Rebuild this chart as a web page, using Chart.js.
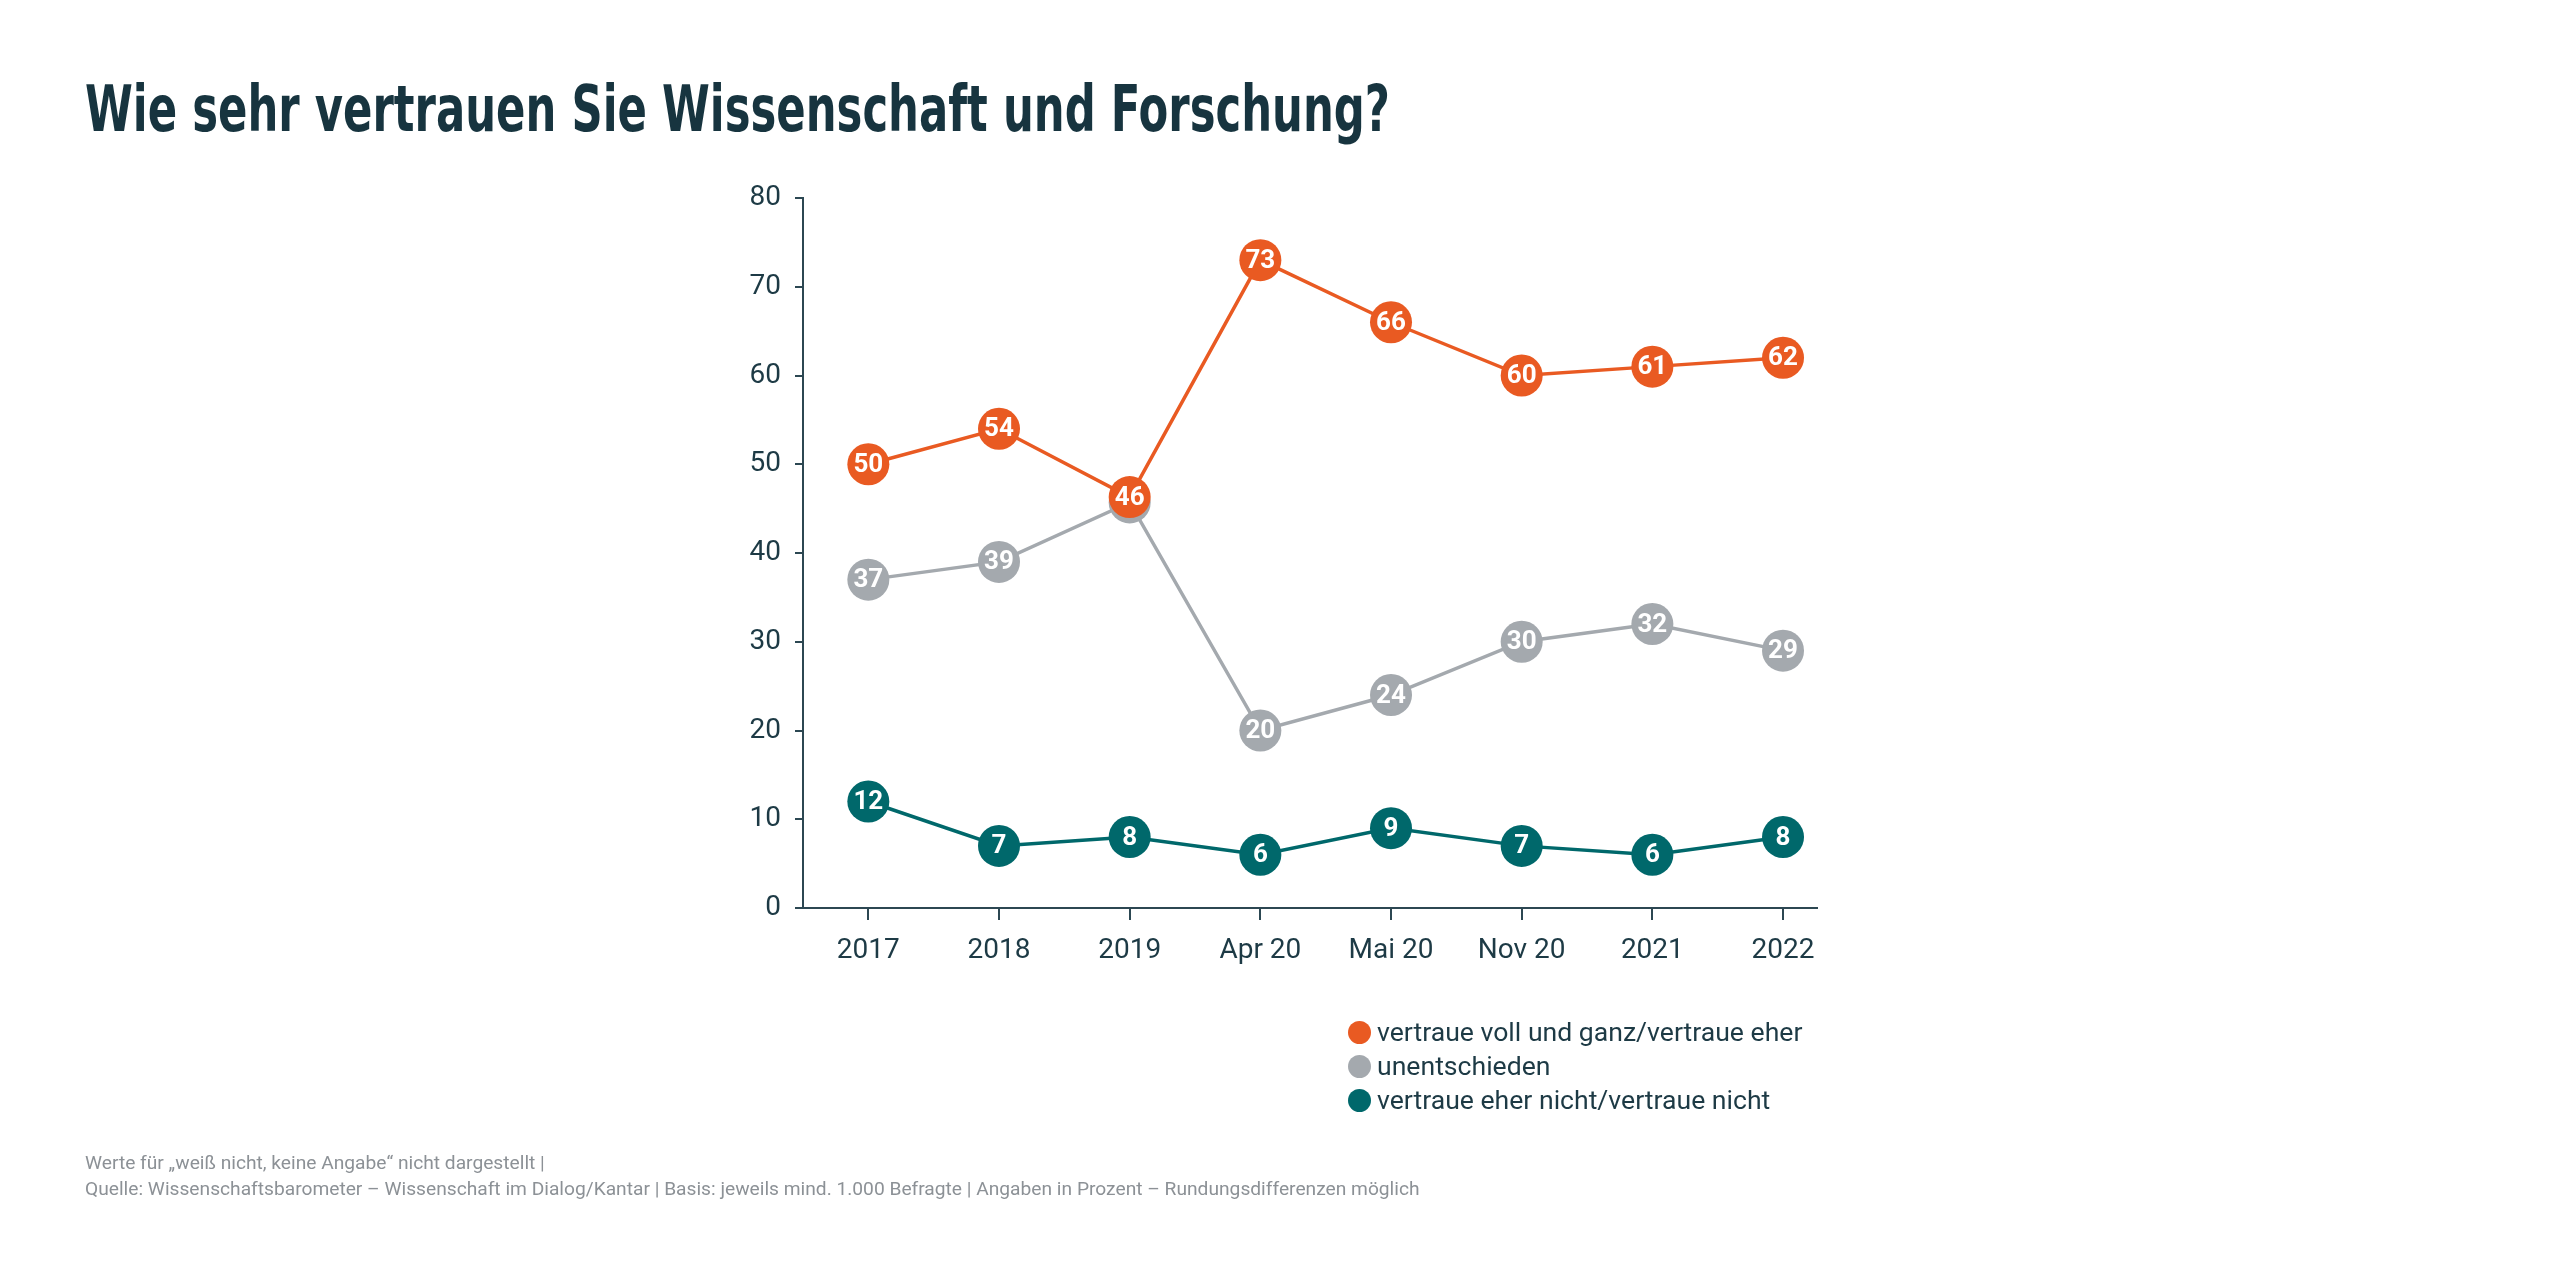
<!DOCTYPE html>
<html lang="de">
<head>
<meta charset="UTF-8">
<title>Vertrauen in Wissenschaft und Forschung</title>
<script src="https://cdn.jsdelivr.net/npm/chart.js"></script>
<style>
  body {
    margin: 0;
    width: 2560px;
    height: 1280px;
    background: #fff;
    position: relative;
    overflow: hidden;
    font-family: Roboto, sans-serif;
    color: #1d3a45;
  }
  h1 {
    position: absolute;
    left: 85px;
    top: 77px;
    margin: 0;
    font: bold 64px/64px "DejaVu Sans Condensed", sans-serif;
    color: #17343f;
    white-space: nowrap;
    transform: scaleX(0.753);
    transform-origin: left top;
  }
  #chart {
    position: absolute;
    left: 0;
    top: 0;
  }
  #legend {
    position: absolute;
    left: 1348px;
    top: 1015px;
    font-size: 26.6px;
    line-height: 34px;
  }
  #legend .dot {
    display: inline-block;
    width: 23px;
    height: 23px;
    border-radius: 50%;
    margin-right: 6px;
    vertical-align: -3px;
  }
  .note {
    position: absolute;
    left: 85px;
    top: 1150px;
    font-size: 19.2px;
    line-height: 26px;
    color: #8c9196;
    white-space: nowrap;
  }
</style>
</head>
<body>
  <h1>Wie sehr vertrauen Sie Wissenschaft und Forschung?</h1>
  <canvas id="chart" width="2560" height="1280"></canvas>
  <div id="legend"></div>
  <div class="note">
    Werte für „weiß nicht, keine Angabe“ nicht dargestellt |<br>
    Quelle: Wissenschaftsbarometer – Wissenschaft im Dialog/Kantar | Basis: jeweils mind. 1.000 Befragte | Angaben in Prozent – Rundungsdifferenzen möglich
  </div>

<script>
  const categories = ['2017', '2018', '2019', 'Apr 20', 'Mai 20', 'Nov 20', '2021', '2022'];
  const vertrauen = [50, 54, 46.3, 73, 66, 60, 61, 62];
  const unentschieden = [37, 39, 45.7, 20, 24, 30, 32, 29];
  const nichtVertrauen = [12, 7, 8, 6, 9, 7, 6, 8];
  const yTicks = [0, 10, 20, 30, 40, 50, 60, 70, 80];

  const seriesNames = ['vertraue voll und ganz/vertraue eher', 'unentschieden', 'vertraue eher nicht/vertraue nicht'];
  const seriesColors = ['#e95a22', '#a4a9ae', '#00686b'];
  const seriesValues = [vertrauen, unentschieden, nichtVertrauen];

  const axisColor = '#2c4752';
  const textColor = '#1d3a45';

  // white numbers inside the circles, drawn right after each dataset so layering stays right
  const pointLabels = {
    id: 'pointLabels',
    afterDatasetDraw(chart, args) {
      const c = chart.ctx;
      const values = seriesValues[args.index];
      c.save();
      c.font = 'bold 26px Roboto';
      c.fillStyle = '#ffffff';
      c.textAlign = 'center';
      c.textBaseline = 'middle';
      args.meta.data.forEach((pt, i) => {
        c.fillText(String(Math.round(values[i])), pt.x, pt.y + 1);
      });
      c.restore();
    }
  };

  const datasets = seriesValues.map((vals, k) => ({
    label: seriesNames[k],
    data: vals.map((v, i) => ({ x: i, y: v })),
    borderColor: seriesColors[k],
    backgroundColor: seriesColors[k],
    borderWidth: 3.5,
    pointRadius: 21,
    pointHoverRadius: 21,
    pointBorderWidth: 0,
    pointBackgroundColor: seriesColors[k],
    tension: 0,
    clip: false
  }));

  new Chart(document.getElementById('chart'), {
    type: 'line',
    data: { datasets: datasets },
    options: {
      responsive: false,
      animation: false,
      devicePixelRatio: 1,
      layout: { padding: { left: 723, right: 743, top: 198, bottom: 292 } },
      plugins: {
        legend: { display: false },
        tooltip: { enabled: false }
      },
      scales: {
        x: {
          type: 'linear',
          min: -0.5,
          max: 7.26,
          afterFit: s => { s.height = 80; },
          afterBuildTicks: s => { s.ticks = categories.map((c, i) => ({ value: i })); },
          ticks: {
            callback: v => categories[v],
            font: { family: 'Roboto', size: 28 },
            color: textColor,
            padding: 14,
            maxRotation: 0,
            autoSkip: false
          },
          grid: { drawOnChartArea: false, drawTicks: true, tickLength: 12, color: axisColor, lineWidth: 2 },
          border: { display: true, color: axisColor, width: 2 }
        },
        y: {
          min: 0,
          max: 80,
          afterFit: s => { s.width = 80; },
          afterBuildTicks: s => { s.ticks = yTicks.map(v => ({ value: v })); },
          ticks: {
            font: { family: 'Roboto', size: 28 },
            color: textColor,
            padding: 14
          },
          grid: { drawOnChartArea: false, drawTicks: true, tickLength: 8, color: axisColor, lineWidth: 2 },
          border: { display: true, color: axisColor, width: 2 }
        }
      }
    },
    plugins: [pointLabels]
  });

  const legend = document.getElementById('legend');
  seriesNames.forEach((name, k) => {
    const row = document.createElement('div');
    const dot = document.createElement('span');
    dot.className = 'dot';
    dot.style.background = seriesColors[k];
    row.appendChild(dot);
    row.appendChild(document.createTextNode(name));
    legend.appendChild(row);
  });
</script>
</body>
</html>
